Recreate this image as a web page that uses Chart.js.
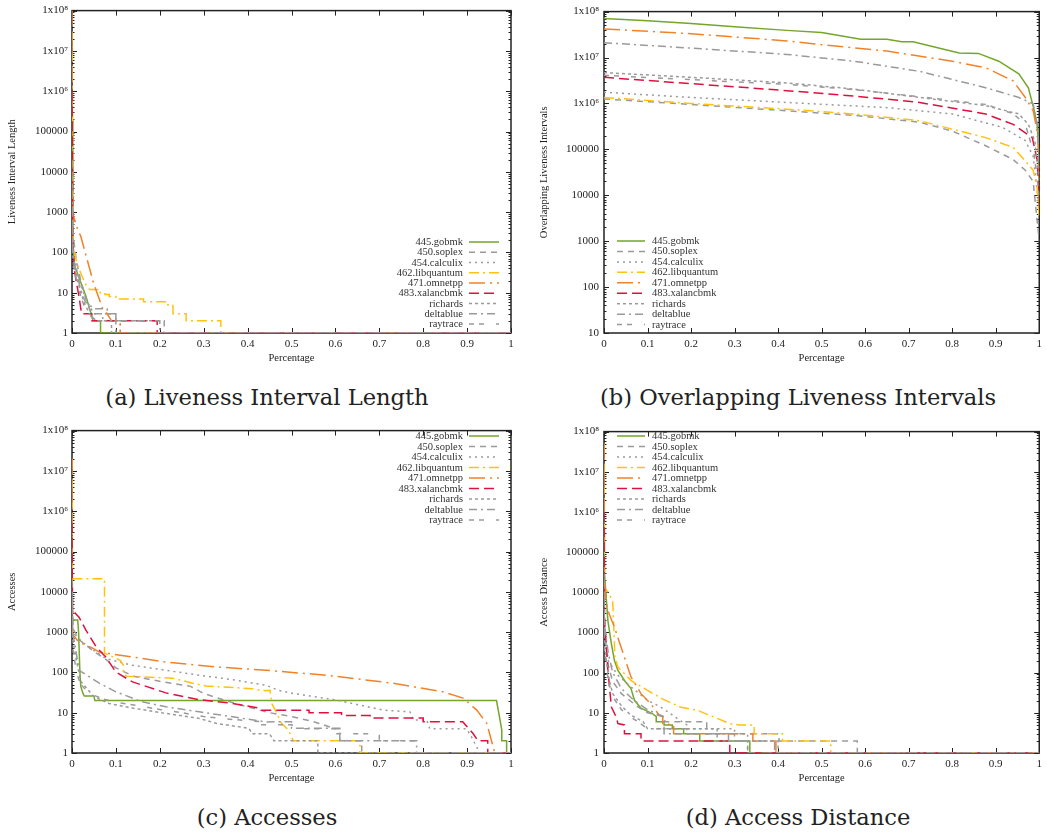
<!DOCTYPE html>
<html>
<head>
<meta charset="utf-8">
<script src="https://cdn.jsdelivr.net/npm/chart.js@4.4.1/dist/chart.umd.min.js"></script>
<style>
  body { margin: 0; background: #fff; }
  #wrap { position: relative; width: 1047px; height: 835px; overflow: hidden; }
  canvas { position: absolute; }
  .cap { position: absolute; width: 520px; text-align: center; white-space: nowrap;
         font-family: 'DejaVu Serif', serif; font-size: 22.6px; line-height: 26px; color: #222; }
  .kl { position: absolute; width: 120px; height: 12px; line-height: 12px; white-space: nowrap;
        font-family: 'Liberation Serif', serif; font-size: 10.5px; color: #333; }
</style>
</head>
<body>
<div id="wrap">
  <canvas id="ca" width="530" height="370" style="left:0;top:0"></canvas>
  <canvas id="cb" width="517" height="370" style="left:530px;top:0"></canvas>
  <canvas id="cc" width="530" height="370" style="left:0;top:420px"></canvas>
  <canvas id="cd" width="517" height="370" style="left:530px;top:420px"></canvas>
  <div class="cap" style="left:7px;top:384px">(a) Liveness Interval Length</div>
  <div class="cap" style="left:538px;top:384px">(b) Overlapping Liveness Intervals</div>
  <div class="cap" style="left:7px;top:804px">(c) Accesses</div>
  <div class="cap" style="left:538px;top:804px">(d) Access Distance</div>
</div>
<script>
// series names, in key order
const SERIES = ['445.gobmk', '450.soplex', '454.calculix', '462.libquantum', '471.omnetpp',
                '483.xalancbmk', 'richards', 'deltablue', 'raytrace'];
const X_TICKS = [0, 0.1, 0.2, 0.3, 0.4, 0.5, 0.6, 0.7, 0.8, 0.9, 1];
const X_LABELS = ['0', '0.1', '0.2', '0.3', '0.4', '0.5', '0.6', '0.7', '0.8', '0.9', '1'];
const Y_TICKS = [1, 10, 100, 1000, 10000, 100000, 1e6, 1e7, 1e8];
const Y_LABELS = ['1', '10', '100', '1000', '10000', '100000', '1x10\u2076', '1x10\u2077', '1x10\u2078'];

// (a) liveness interval length: [percentage, value]
const LEN_GOBMK = [[0,2e5],[0.002,200],[0.005,50],[0.02,18],[0.032,8],[0.04,4],[0.044,3],[0.048,2],[0.065,2],[0.065,1],[1,1]];
const LEN_SOPLEX = [[0,1e5],[0.002,300],[0.01,60],[0.02,20],[0.03,8],[0.04,4],[0.045,3],[0.1,3],[0.1,2],[0.21,2],[0.21,1],[1,1]];
const LEN_CALCULIX = [[0,5e4],[0.002,150],[0.01,40],[0.02,15],[0.035,6],[0.05,3],[0.07,3],[0.07,2],[0.11,2],[0.11,1],[1,1]];
const LEN_LIBQUANTUM = [[0,3e7],[0.003,150],[0.01,60],[0.02,30],[0.03,17],[0.037,13],[0.04,12],[0.064,12],[0.064,10],[0.075,10],[0.075,9],[0.085,9],[0.085,8],[0.1,8],[0.1,7],[0.163,7],[0.163,6],[0.215,6],[0.215,5],[0.23,5],[0.23,3],[0.26,3],[0.26,2],[0.339,2],[0.339,1],[1,1]];
const LEN_OMNETPP = [[0,1e8],[0.001,1000],[0.005,700],[0.012,400],[0.02,250],[0.03,100],[0.04,40],[0.05,16],[0.06,8],[0.07,4],[0.08,3],[0.09,2],[0.11,2],[0.11,1],[1,1]];
const LEN_XALANCBMK = [[0,1e6],[0.002,200],[0.005,40],[0.01,18],[0.016,8],[0.02,4],[0.022,3],[0.045,3],[0.045,2],[0.194,2],[0.194,1],[1,1]];
const LEN_RICHARDS = [[0,2e4],[0.002,100],[0.01,25],[0.02,10],[0.03,5],[0.04,3],[0.055,2],[0.09,2],[0.09,1],[1,1]];
const LEN_DELTABLUE = [[0,1e4],[0.002,80],[0.01,30],[0.02,12],[0.03,6],[0.05,4],[0.08,4],[0.08,3],[0.1,3],[0.1,2],[0.2,2],[0.2,1],[1,1]];
const LEN_RAYTRACE = [[0,5e3],[0.002,60],[0.01,20],[0.02,8],[0.03,4],[0.04,3],[0.05,2],[0.1,2],[0.1,1],[1,1]];

// (b) overlapping liveness intervals
const OVL_GOBMK = [[0,7.1e7],[0.1,6.3e7],[0.2,5.5e7],[0.3,4.7e7],[0.42,3.9e7],[0.5,3.5e7],[0.59,2.5e7],[0.65,2.5e7],[0.684,2.2e7],[0.71,2.2e7],[0.816,1.26e7],[0.86,1.23e7],[0.907,8.3e6],[0.953,4.4e6],[0.975,2.2e6],[0.987,8e5],[0.995,3.5e5],[0.999,1e5],[1,1e4]];
const OVL_SOPLEX = [[0,1.25e6],[0.2,9.5e5],[0.42,6.9e5],[0.575,5.5e5],[0.725,3.9e5],[0.8,2.5e5],[0.877,1.2e5],[0.94,6e4],[0.968,3.5e4],[0.986,2e4],[1,1e3]];
const OVL_CALCULIX = [[0,1.75e6],[0.2,1.35e6],[0.42,1.05e6],[0.65,8.1e5],[0.8,5.9e5],[0.916,3e5],[0.968,1.55e5],[0.986,7e4],[1,5e3]];
const OVL_LIBQUANTUM = [[0,1.35e6],[0.2,1.0e6],[0.42,7.5e5],[0.575,5.9e5],[0.725,4.2e5],[0.8,2.75e5],[0.877,1.8e5],[0.94,1.1e5],[0.968,5.6e4],[0.986,3.5e4],[0.995,1.5e4],[1,3e3]];
const OVL_OMNETPP = [[0,4.2e7],[0.2,3.3e7],[0.42,2.3e7],[0.5,1.9e7],[0.65,1.38e7],[0.8,8.3e6],[0.877,6e6],[0.94,3.1e6],[0.968,1.35e6],[0.986,7e5],[0.997,2e5],[1,5e3]];
const OVL_XALANCBMK = [[0,3.7e6],[0.2,2.7e6],[0.42,1.9e6],[0.575,1.45e6],[0.725,1.05e6],[0.877,5.9e5],[0.94,3.5e5],[0.984,1.8e5],[0.995,6e4],[1,1e4]];
const OVL_RICHARDS = [[0,4.7e6],[0.2,3.7e6],[0.42,2.8e6],[0.575,2.05e6],[0.725,1.35e6],[0.877,9e5],[0.953,5.9e5],[0.975,3.5e5],[0.99,1.5e5],[1,2e4]];
const OVL_DELTABLUE = [[0,2.1e7],[0.2,1.6e7],[0.42,1.17e7],[0.575,8.3e6],[0.725,5e6],[0.877,2.2e6],[0.953,1.35e6],[0.986,9.8e5],[0.997,3e5],[1,3e4]];
const OVL_RAYTRACE = [[0,4.1e6],[0.2,3.3e6],[0.42,2.6e6],[0.575,2e6],[0.725,1.4e6],[0.877,9.5e5],[0.94,6e5],[0.968,3.5e5],[0.988,8e4],[1,1e4]];

// (c) accesses
const ACC_GOBMK = [[0,2000],[0.013,2000],[0.015,1000],[0.018,100],[0.02,45],[0.025,30],[0.028,26],[0.05,26],[0.052,20],[0.967,20],[0.975,6.6],[0.979,3.7],[0.979,2],[0.99,2],[0.99,1],[1,1]];
const ACC_SOPLEX = [[0,5e4],[0.002,1200],[0.02,600],[0.05,330],[0.08,200],[0.1,130],[0.14,80],[0.2,60],[0.27,45],[0.3,30],[0.35,20],[0.4,14],[0.45,10],[0.5,8],[0.55,6],[0.6,4],[0.61,4],[0.61,2],[0.66,2],[0.66,1],[1,1]];
const ACC_CALCULIX = [[0,1e5],[0.002,1000],[0.02,600],[0.05,350],[0.077,220],[0.138,150],[0.214,113],[0.29,85],[0.366,66],[0.442,48],[0.47,36],[0.504,30],[0.542,26],[0.603,20.5],[0.709,11.6],[0.77,10.5],[0.777,6.6],[0.808,6.6],[0.815,4],[0.899,4],[0.91,2.5],[0.929,1],[1,1]];
const ACC_LIBQUANTUM = [[0,2e7],[0.001,2.1e4],[0.074,2.1e4],[0.074,300],[0.09,250],[0.11,200],[0.117,150],[0.117,95],[0.125,80],[0.229,72],[0.275,54],[0.305,46],[0.403,40],[0.441,35],[0.451,36],[0.455,17],[0.466,10],[0.477,5.5],[0.49,4],[0.497,3],[0.504,2],[0.656,2],[0.656,1],[1,1]];
const ACC_OMNETPP = [[0,2e7],[0.001,1000],[0.003,830],[0.016,560],[0.047,400],[0.062,320],[0.138,240],[0.214,180],[0.328,137],[0.442,113],[0.58,85],[0.731,54],[0.845,33],[0.891,23],[0.922,11.6],[0.945,5.4],[0.952,2.8],[0.963,1],[1,1]];
const ACC_XALANCBMK = [[0,5e5],[0.001,3500],[0.016,2350],[0.032,1100],[0.055,430],[0.077,240],[0.1,102],[0.138,58],[0.214,31],[0.29,21],[0.366,17],[0.426,13],[0.43,11.5],[0.54,11.5],[0.54,10],[0.614,10],[0.614,8.5],[0.679,8.5],[0.679,7.4],[0.8,7.4],[0.8,6],[0.89,6],[0.9,4.5],[0.914,3],[0.925,2],[0.947,2],[0.947,1],[1,1]];
const ACC_RICHARDS = [[0,1e4],[0.002,600],[0.01,200],[0.02,60],[0.05,25],[0.084,17],[0.138,13],[0.214,9.6],[0.29,7.2],[0.33,5.4],[0.403,4.1],[0.41,3],[0.45,3],[0.46,2],[0.56,2],[0.56,1],[1,1]];
const ACC_DELTABLUE = [[0,2e4],[0.002,900],[0.008,400],[0.016,113],[0.062,54],[0.1,33],[0.16,18.6],[0.214,14],[0.29,10.5],[0.366,7.9],[0.442,5.9],[0.5,6],[0.5,4.1],[0.61,4.1],[0.61,2],[0.785,2],[0.785,1],[1,1]];
const ACC_RAYTRACE = [[0,8000],[0.002,400],[0.01,100],[0.02,50],[0.04,30],[0.07,22],[0.1,18],[0.15,15],[0.2,12],[0.25,10],[0.3,8],[0.35,7],[0.43,6],[0.43,5],[0.5,5],[0.52,4],[0.6,4],[0.6,3],[0.7,3],[0.7,2],[0.78,2],[0.78,1],[1,1]];

// (d) access distance
const DST_GOBMK = [[0,5e5],[0.001,3e4],[0.009,1950],[0.017,520],[0.024,200],[0.032,113],[0.047,64],[0.062,40],[0.07,20.5],[0.085,13],[0.111,9.6],[0.12,8],[0.12,6],[0.138,6],[0.138,5],[0.157,5],[0.157,4],[0.183,4],[0.183,3],[0.22,3],[0.22,2],[0.335,2],[0.335,1],[1,1]];
const DST_SOPLEX = [[0,1e5],[0.001,3000],[0.005,400],[0.01,150],[0.02,60],[0.04,30],[0.06,20],[0.078,14],[0.1,10],[0.138,8],[0.14,6],[0.236,6],[0.236,3],[0.402,3],[0.402,2],[0.582,2],[0.582,1],[1,1]];
const DST_CALCULIX = [[0,5e4],[0.001,1000],[0.01,200],[0.03,90],[0.062,44],[0.1,20.5],[0.13,14],[0.15,10],[0.17,7],[0.19,5],[0.19,4],[0.3,4],[0.3,3],[0.33,3],[0.33,1],[1,1]];
const DST_LIBQUANTUM = [[0,5e7],[0.001,1.3e4],[0.01,1e4],[0.02,6000],[0.023,1000],[0.025,250],[0.032,137],[0.062,64],[0.1,36],[0.135,22],[0.175,14],[0.214,11.6],[0.252,7.9],[0.289,5.4],[0.31,5],[0.345,5],[0.345,3],[0.41,3],[0.41,2],[0.521,2],[0.521,1],[1,1]];
const DST_OMNETPP = [[0,5e7],[0.001,2e4],[0.005,6000],[0.009,3500],[0.024,1350],[0.047,240],[0.062,78],[0.085,30],[0.107,17],[0.127,8.7],[0.135,8],[0.135,5.4],[0.16,5],[0.16,3],[0.342,3],[0.342,2],[0.395,2],[0.395,1],[1,1]];
const DST_XALANCBMK = [[0,1e6],[0.001,2000],[0.004,760],[0.009,113],[0.017,14],[0.028,7.9],[0.032,5.4],[0.047,5],[0.047,3],[0.085,3],[0.085,2],[0.289,2],[0.289,1],[1,1]];
const DST_RICHARDS = [[0,2e4],[0.001,500],[0.01,80],[0.02,30],[0.04,15],[0.06,9],[0.09,6],[0.1,4],[0.26,4],[0.26,2],[0.4,2],[0.4,1],[1,1]];
const DST_DELTABLUE = [[0,3e4],[0.001,1500],[0.01,300],[0.02,100],[0.04,40],[0.07,20],[0.1,12],[0.138,8],[0.138,3],[0.286,3],[0.286,2],[0.392,2],[0.392,1],[1,1]];
const DST_RAYTRACE = [[0,1e4],[0.001,400],[0.01,60],[0.02,25],[0.04,12],[0.06,8],[0.078,6],[0.1,4],[0.19,4],[0.19,3],[0.3,3],[0.3,2],[0.33,2],[0.33,1],[1,1]];

// line styles, same order as SERIES
const COLORS = ['#74a62a', '#9a9a9a', '#9a9a9a', '#ffc20e', '#f0832a', '#e0103e', '#9a9a9a', '#9a9a9a', '#9a9a9a'];
const DASHES = [[], [6, 5], [2, 4], [10, 4, 2, 4], [16, 5, 2, 5], [10, 5], [3, 3], [8, 4, 2, 4], [5, 5, 5, 12]];

const SERIF = '"Liberation Serif", "Times New Roman", serif';
const wrap = document.getElementById('wrap');

// border plus gnuplot-style inward ticks on all four sides
const framePlugin = {
  id: 'frame',
  beforeDatasetsDraw(chart) {
    const { ctx, chartArea: a, scales: { x, y } } = chart;
    ctx.save();
    ctx.setLineDash([]);
    ctx.strokeStyle = '#222';
    ctx.lineWidth = 1.5;
    ctx.strokeRect(a.left, a.top, a.right - a.left, a.bottom - a.top);
    ctx.lineWidth = 1;
    ctx.beginPath();
    X_TICKS.forEach(v => {
      const px = Math.round(x.getPixelForValue(v)) + 0.5;
      ctx.moveTo(px, a.bottom); ctx.lineTo(px, a.bottom - 5);
      ctx.moveTo(px, a.top); ctx.lineTo(px, a.top + 5);
    });
    for (let d = y.min; d <= y.max; d *= 10) {
      for (let m = 1; m <= 9; m++) {
        const v = d * m;
        if (v > y.max) break;
        const py = Math.round(y.getPixelForValue(v)) + 0.5;
        const len = m === 1 ? 5 : 2.5;
        ctx.moveTo(a.left, py); ctx.lineTo(a.left + len, py);
        ctx.moveTo(a.right, py); ctx.lineTo(a.right - len, py);
      }
    }
    ctx.stroke();
    ctx.restore();
  }
};

// gnuplot-like key: sample lines on the canvas, labels as page text
function keyPlugin(k) {
  return {
    id: 'key',
    afterDatasetsDraw(chart) {
      const ctx = chart.ctx;
      ctx.save();
      chart.data.datasets.forEach((ds, i) => {
        const yy = k.y0 + i * k.dy;
        ctx.strokeStyle = ds.borderColor;
        ctx.lineWidth = 1.5;
        ctx.setLineDash(ds.borderDash);
        ctx.beginPath();
        ctx.moveTo(k.s0, yy);
        ctx.lineTo(k.s1, yy);
        ctx.stroke();
      });
      ctx.restore();
    }
  };
}

function addKeyLabels(canvas, k) {
  const ox = parseFloat(canvas.style.left) || 0;
  const oy = parseFloat(canvas.style.top) || 0;
  SERIES.forEach((name, i) => {
    const el = document.createElement('div');
    el.className = 'kl';
    el.textContent = name;
    el.style.top = (oy + k.y0 + i * k.dy - 6) + 'px';
    if (k.align === 'right') {
      el.style.left = (ox + k.tx - 120) + 'px';
      el.style.textAlign = 'right';
    } else {
      el.style.left = (ox + k.tx) + 'px';
    }
    wrap.appendChild(el);
  });
}

function makeChart(id, series, cfg) {
  const n = series.length;
  const canvas = document.getElementById(id);
  const datasets = series.map((pts, i) => ({
    label: SERIES[i],
    data: pts.map(p => ({ x: p[0], y: p[1] })),
    borderColor: COLORS[i],
    borderDash: DASHES[i],
    borderWidth: 1.5,
    pointRadius: 0,
    tension: 0,
    fill: false,
    order: n - i
  }));
  const yTicks = Y_TICKS.filter(v => v >= cfg.yMin);
  addKeyLabels(canvas, cfg.key);
  return new Chart(canvas, {
    type: 'line',
    data: { datasets },
    plugins: [framePlugin, keyPlugin(cfg.key)],
    options: {
      responsive: false,
      animation: false,
      events: [],
      layout: { padding: { left: 0, right: cfg.padRight, top: 10, bottom: 0 } },
      plugins: { legend: { display: false }, tooltip: { enabled: false } },
      scales: {
        x: {
          type: 'linear', min: 0, max: 1,
          afterBuildTicks: s => { s.ticks = X_TICKS.map(v => ({ value: v })); },
          afterFit: s => { s.height = 37; },
          ticks: {
            autoSkip: false, maxRotation: 0, padding: 5, color: '#222',
            font: { family: SERIF, size: 11 },
            callback: (v, i) => X_LABELS[i]
          },
          grid: { display: false, drawTicks: false },
          border: { display: false },
          title: {
            display: true, text: 'Percentage', color: '#222',
            font: { family: SERIF, size: 10.5 }, padding: { top: 0, bottom: 5 }
          }
        },
        y: {
          type: 'logarithmic', min: cfg.yMin, max: 1e8,
          afterBuildTicks: s => { s.ticks = yTicks.map(v => ({ value: v })); },
          afterFit: s => { s.width = cfg.yWidth; },
          ticks: {
            autoSkip: false, padding: cfg.tickPad, color: '#222',
            font: { family: SERIF, size: 11 },
            callback: (v, i) => Y_LABELS[Y_TICKS.indexOf(yTicks[i])]
          },
          grid: { display: false, drawTicks: false },
          border: { display: false },
          title: {
            display: true, text: cfg.yTitle, color: '#222',
            font: { family: SERIF, size: 10.5 }, padding: { top: cfg.titlePad, bottom: 0 }
          }
        }
      }
    }
  });
}

makeChart('ca',
  [LEN_GOBMK, LEN_SOPLEX, LEN_CALCULIX, LEN_LIBQUANTUM, LEN_OMNETPP, LEN_XALANCBMK, LEN_RICHARDS, LEN_DELTABLUE, LEN_RAYTRACE],
  { yMin: 1, yTitle: 'Liveness Interval Length', yWidth: 72, padRight: 19, tickPad: 4, titlePad: 6,
    key: { align: 'right', tx: 463, s0: 469, s1: 499, y0: 242, dy: 10.25 } });

makeChart('cb',
  [OVL_GOBMK, OVL_SOPLEX, OVL_CALCULIX, OVL_LIBQUANTUM, OVL_OMNETPP, OVL_XALANCBMK, OVL_RICHARDS, OVL_DELTABLUE, OVL_RAYTRACE],
  { yMin: 10, yTitle: 'Overlapping Liveness Intervals', yWidth: 74, padRight: 3, tickPad: 5, titlePad: 8,
    key: { align: 'left', tx: 122, s0: 87, s1: 115, y0: 241, dy: 10.45 } });

makeChart('cc',
  [ACC_GOBMK, ACC_SOPLEX, ACC_CALCULIX, ACC_LIBQUANTUM, ACC_OMNETPP, ACC_XALANCBMK, ACC_RICHARDS, ACC_DELTABLUE, ACC_RAYTRACE],
  { yMin: 1, yTitle: 'Accesses', yWidth: 72, padRight: 19, tickPad: 4, titlePad: 6,
    key: { align: 'right', tx: 463, s0: 469, s1: 499, y0: 16, dy: 10.5 } });

makeChart('cd',
  [DST_GOBMK, DST_SOPLEX, DST_CALCULIX, DST_LIBQUANTUM, DST_OMNETPP, DST_XALANCBMK, DST_RICHARDS, DST_DELTABLUE, DST_RAYTRACE],
  { yMin: 1, yTitle: 'Access Distance', yWidth: 74, padRight: 3, tickPad: 5, titlePad: 8,
    key: { align: 'left', tx: 122, s0: 87, s1: 115, y0: 16, dy: 10.5 } });
</script>
</body>
</html>
